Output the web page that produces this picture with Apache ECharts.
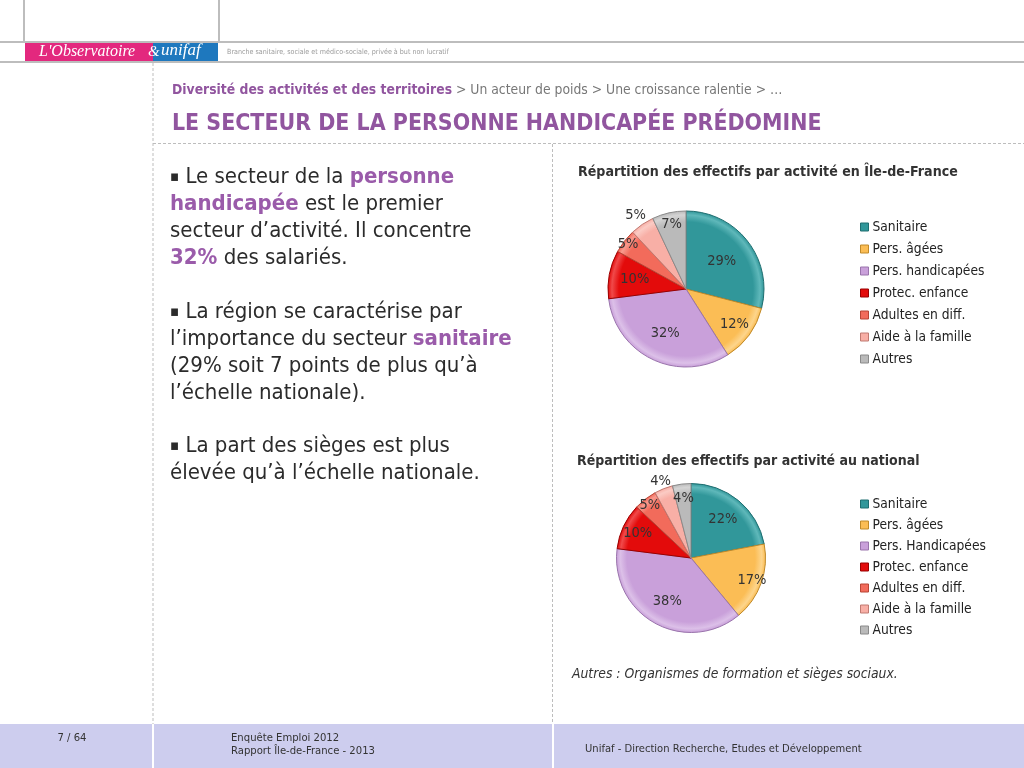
<!DOCTYPE html>
<html><head><meta charset="utf-8">
<script src="https://cdn.jsdelivr.net/npm/echarts@6/dist/echarts.min.js"></script>
<style>html,body{margin:0;padding:0;background:#fff}#c{width:1024px;height:768px}</style>
</head><body><div id="c"></div>
<script>
// ---- data ----
var namesIDF = ['Sanitaire','Pers. âgées','Pers. handicapées','Protec. enfance','Adultes en diff.','Aide à la famille','Autres'];
var valuesIDF = [29, 12, 32, 10, 5, 5, 7];
var namesNat = ['Sanitaire','Pers. âgées','Pers. Handicapées','Protec. enfance','Adultes en diff.','Aide à la famille','Autres'];
var valuesNat = [22, 17, 38, 10, 5, 4, 4];
var titleIDF = 'Répartition des effectifs par activité en Île-de-France';
var titleNat = 'Répartition des effectifs par activité au national';

// ---- style ----
var colors  = ['#31979A','#FBBD55','#C9A0DA','#E30B0B','#F26B5B','#F8AFA6','#BABABA'];
var lights  = ['#5FB8BA','#FDD58C','#DCC0E8','#F04A4A','#F89A8E','#FBCBC4','#D4D4D4'];
var borders = ['#1F6E70','#C08A2A','#9A74AC','#9A0000','#B84535','#C07A72','#8A8A8A'];
var labelFrac = [[0.54,0.73,0.59,0.63,0.9,1.11,0.81],[0.63,0.83,0.62,0.75,0.86,1.07,0.77]];
var pies = [{c:[686,289], r:78}, {c:[691,558], r:74.5}];
var F = "'DejaVu Sans Condensed','DejaVu Sans',sans-serif";
var purple = '#91559F', dark = '#2b2b2b';

function mkData(idx, names, vals){
  var p = pies[idx];
  return vals.map(function(v,i){
    return {name:names[i], value:v, itemStyle:{
      color:{type:'radial', x:p.c[0], y:p.c[1], r:p.r, global:true,
        colorStops:[{offset:0,color:colors[i]},{offset:0.86,color:colors[i]},{offset:0.95,color:lights[i]},{offset:1,color:colors[i]}]},
      borderColor:borders[i], borderWidth:1}};
  });
}
var allVals = [valuesIDF, valuesNat];
function labelLayout(p){
  var vals = allVals[p.seriesIndex], tot = 0, cum = 0, i;
  for(i=0;i<vals.length;i++) tot += vals[i];
  for(i=0;i<p.dataIndex;i++) cum += vals[i];
  var th = (cum + vals[p.dataIndex]/2)/tot*2*Math.PI;
  var k = (labelFrac[p.seriesIndex][p.dataIndex]-0.5)*pies[p.seriesIndex].r;
  return {dx: k*Math.sin(th), dy: -k*Math.cos(th)};
}
function pieSeries(idx, names, vals){
  return {
    type:'pie', center:pies[idx].c, radius:[0,pies[idx].r], startAngle:90, clockwise:true,
    avoidLabelOverlap:false, animation:false, silent:true,
    data: mkData(idx, names, vals),
    label:{show:true, position:'inside', formatter:'{c}%', color:'#333', fontSize:14.5, fontFamily:F},
    labelLine:{show:false},
    labelLayout: labelLayout
  };
}
function legend(idx, names, top, gap){
  return {orient:'vertical', left:860, top:top, padding:0, itemGap:gap, icon:'rect', itemWidth:8, itemHeight:8,
    data:names.map(function(n,i){return {name:n, itemStyle:{color:colors[i], borderColor:borders[i], borderWidth:1}};}),
    selectedMode:false,
    textStyle:{fontSize:13.7, fontFamily:F, color:'#222', lineHeight:16, padding:[0,0,0,-1]}};
}
function line(x1,y1,x2,y2,color,w,dash){
  return {type:'line', shape:{x1:x1,y1:y1,x2:x2,y2:y2}, silent:true, style:{stroke:color, lineWidth:w, lineDash:dash||null}};
}
function txt(x,y,text,opt){
  var s = {text:text, fill:opt.fill||dark, fontSize:opt.size, fontFamily:opt.family||F, fontWeight:opt.weight||'normal',
    fontStyle:opt.style||'normal', verticalAlign:opt.va||'middle', align:opt.align||'left'};
  if(opt.rich) s.rich = opt.rich;
  if(opt.lineHeight) s.lineHeight = opt.lineHeight;
  return {type:'text', x:x, y:y, silent:true, style:s};
}
var bodyRich = {
  n:{fontSize:22, fontFamily:F, fill:dark, lineHeight:27},
  u:{fontSize:15, fontFamily:F, fill:dark, lineHeight:27},
  b:{fontSize:22, fontFamily:F, fill:'#9A5BAA', fontWeight:'bold', lineHeight:27}
};
var g = [
  // header
  line(0,42,1024,42,'#BDBDBD',2),
  line(0,62,1024,62,'#BDBDBD',2),
  line(24,0,24,42,'#BDBDBD',2),
  line(219,0,219,42,'#BDBDBD',2),
  {type:'rect', shape:{x:25,y:43,width:128,height:18}, style:{fill:'#E3287E'}, silent:true},
  {type:'rect', shape:{x:153,y:43,width:65,height:18}, style:{fill:'#1E78BE'}, silent:true},
  txt(39,52,"L'Observatoire",{size:16, family:"'Liberation Serif',serif", style:'italic', fill:'#fff'}),
  txt(148,52,"&",{size:15, family:"'Liberation Serif',serif", style:'italic', fill:'#fff'}),
  txt(161,51,"unifaf",{size:17, family:"'Liberation Serif',serif", style:'italic', fill:'#fff'}),
  txt(227,52,'Branche sanitaire, sociale et médico-sociale, privée à but non lucratif',{size:7.1, fill:'#9a9a9a'}),
  // dashed frame
  line(153,63,153,724,'#BDBDBD',1,[3,2]),
  line(153,143.5,1024,143.5,'#BDBDBD',1,[3,2]),
  line(552.5,144,552.5,724,'#BDBDBD',1,[3,2]),
  // breadcrumb + title
  txt(172,90,'{b|Diversité des activités et des territoires}{n| > Un acteur de poids > Une croissance ralentie > …}',{size:13.8,
    rich:{b:{fontSize:13.8,fontFamily:F,fontWeight:'bold',fill:purple},n:{fontSize:13.8,fontFamily:F,fill:'#777'}}}),
  txt(172,124,'LE SECTEUR DE LA PERSONNE HANDICAPÉE PRÉDOMINE',{size:22.9, weight:'bold', fill:purple}),
  // body text
  txt(170,163.5,'{u|▪}{n| Le secteur de la }{b|personne}\n{b|handicapée}{n| est le premier}\n{n|secteur d’activité. Il concentre}\n{b|32%}{n| des salariés.}',{size:22, va:'top', rich:bodyRich}),
  txt(170,298.5,'{u|▪}{n| La région se caractérise par}\n{n|l’importance du secteur }{b|sanitaire}\n{n|(29% soit 7 points de plus qu’à}\n{n|l’échelle nationale).}',{size:22, va:'top', rich:bodyRich}),
  txt(170,432.5,'{u|▪}{n| La part des sièges est plus}\n{n|élevée qu’à l’échelle nationale.}',{size:22, va:'top', rich:bodyRich}),
  // chart titles
  txt(578,172,titleIDF,{size:14.1, weight:'bold', fill:'#333'}),
  txt(577,461,titleNat,{size:14, weight:'bold', fill:'#333'}),
  txt(572,674,'Autres : Organismes de formation et sièges sociaux.',{size:13.8, style:'italic', fill:'#333'}),
  // footer
  {type:'rect', shape:{x:0,y:724,width:1024,height:44}, style:{fill:'#CDCDEE'}, silent:true},
  line(153,724,153,768,'#ffffff',2),
  line(553,724,553,768,'#ffffff',2),
  txt(72,738,'7 / 64',{size:11.2, align:'center', fill:'#333'}),
  txt(231,738,'Enquête Emploi 2012',{size:11.2, fill:'#333'}),
  txt(231,751,'Rapport Île-de-France - 2013',{size:11.2, fill:'#333'}),
  txt(585,749,'Unifaf - Direction Recherche, Etudes et Développement',{size:11.1, fill:'#333'})
];
var chart = echarts.init(document.getElementById('c'), null, {renderer:'canvas'});
chart.setOption({
  backgroundColor:'#fff', animation:false,
  legend:[legend(0,namesIDF,219,6), legend(1,namesNat,496,5)],
  series:[pieSeries(0,namesIDF,valuesIDF), pieSeries(1,namesNat,valuesNat)],
  graphic:g
});
</script></body></html>
